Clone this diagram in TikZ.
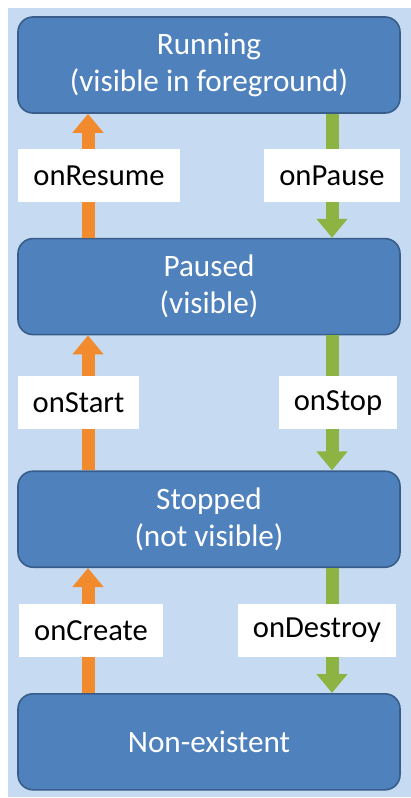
\documentclass[tikz,border=0pt]{standalone}
\usepackage{fontspec}
\setmainfont{Carlito}
\usetikzlibrary{positioning,arrows.meta}
\definecolor{bgblue}{HTML}{C6DBF1}
\definecolor{stateblue}{HTML}{4F81BD}
\definecolor{stateedge}{HTML}{385D8A}
\definecolor{wakeorange}{HTML}{F28A2E}
\definecolor{sleepgreen}{HTML}{8DB443}
\begin{document}
\begin{tikzpicture}[node distance={62pt},
  state/.style = {draw=stateedge, line width=0.8pt, fill=stateblue, rounded corners=7.5pt, minimum width=191pt, minimum height=48pt, text=white, align=center, font=\fontsize{15.6pt}{18.5pt}\selectfont},
  call/.style = {fill=white, text=black, minimum height=26.5pt, inner xsep=7.5pt, font=\fontsize{15.3pt}{18pt}\selectfont},
  upcall/.style = {draw=wakeorange, line width=6.5pt, -{Triangle[width=15pt,length=9.5pt]}},
  downcall/.style = {draw=sleepgreen, line width=6.5pt, -{Triangle[width=15pt,length=9.5pt]}}]
\useasboundingbox (0,0) rectangle (205.5pt,-399pt);
\fill[bgblue] (4pt,-4pt) rectangle (205.5pt,-398.5pt);

\node[state] (1) at (104.5pt,-32.5pt) {Running\\(visible in foreground)};
\node[state] (2) [below=62pt of 1] {Paused\\(visible)};
\node[state] (3) [below=67.5pt of 2] {Stopped\\(not visible)};
\node[state] (4) [below=62.5pt of 3] {Non-existent};

\draw[upcall] ([xshift=-60.5pt]2.north) -- node[call, xshift=5.5pt] {onResume} ([xshift=-60.5pt]1.south);
\draw[downcall] ([xshift=61.5pt]1.south) -- node[call] {onPause} ([xshift=61.5pt]2.north);
\draw[upcall] ([xshift=-60.5pt]3.north) -- node[call, xshift=-4.75pt] {onStart} ([xshift=-60.5pt]2.south);
\draw[downcall] ([xshift=61.5pt]2.south) -- node[call, xshift=3pt] {onStop} ([xshift=61.5pt]3.north);
\draw[upcall] ([xshift=-60.5pt]4.north) -- node[call, xshift=1.5pt] {onCreate} ([xshift=-60.5pt]3.south);
\draw[downcall] ([xshift=61.5pt]3.south) -- node[call, xshift=-7.5pt] {onDestroy} ([xshift=61.5pt]4.north);
\end{tikzpicture}
\end{document}
